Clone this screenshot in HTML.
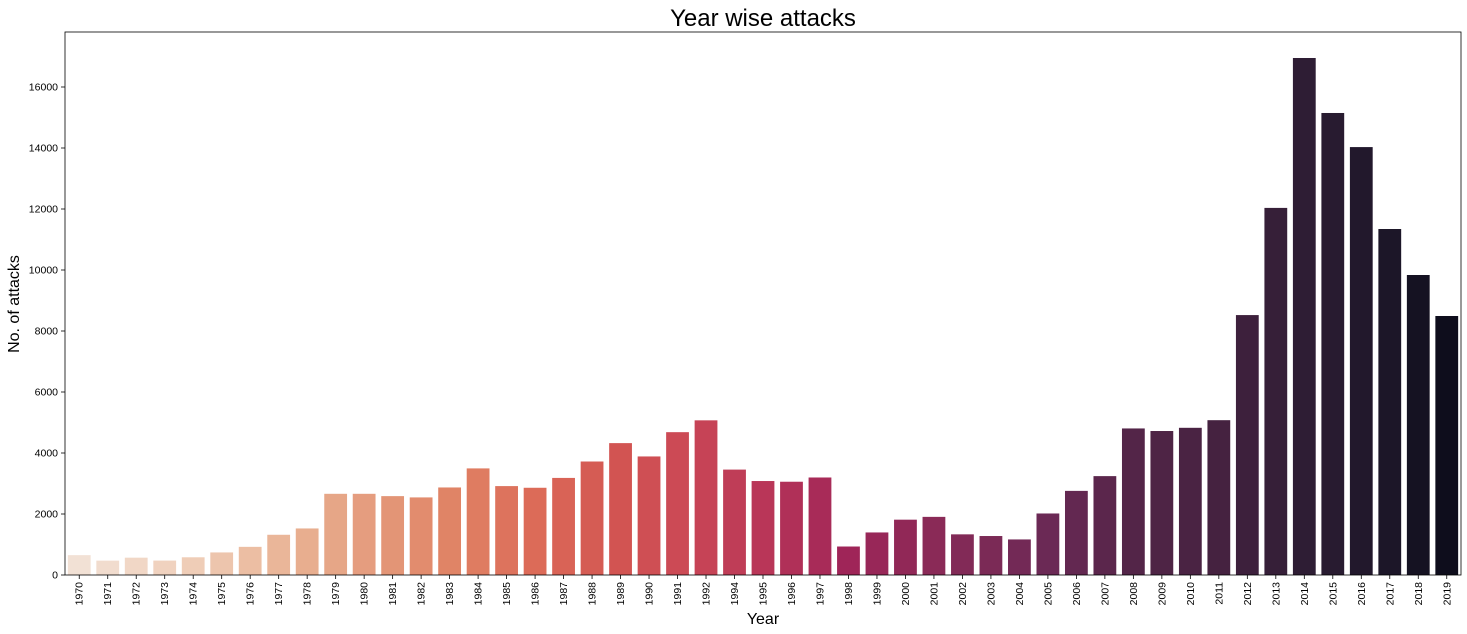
<!DOCTYPE html>
<html><head><meta charset="utf-8"><style>
body{margin:0;background:#fff;}
svg{display:block;font-family:"Liberation Sans","DejaVu Sans",sans-serif;}
</style></head><body>
<svg id="chart" width="1467" height="634"></svg>
<script>
const years=[1970,1971,1972,1973,1974,1975,1976,1977,1978,1979,1980,1981,1982,1983,1984,1985,1986,1987,1988,1989,1990,1991,1992,1994,1995,1996,1997,1998,1999,2000,2001,2002,2003,2004,2005,2006,2007,2008,2009,2010,2011,2012,2013,2014,2015,2016,2017,2018,2019];
const attacks=[651,471,568,473,581,740,923,1319,1526,2662,2662,2586,2544,2870,3495,2915,2860,3183,3721,4324,3887,4683,5071,3456,3081,3058,3197,934,1395,1814,1906,1333,1278,1166,2017,2758,3242,4805,4721,4826,5076,8522,12036,16951,15148,14030,11344,9836,8492];
const yTicks=[0,2000,4000,6000,8000,10000,12000,14000,16000];

const svg=document.getElementById('chart');
const NS='http://www.w3.org/2000/svg';
const L=65,R=1461,T=32,B=575;
const yMax=16000/((B-87)/(B-T));
function y(v){return B-(v/yMax)*(B-T);}
const slot=(R-L)/years.length;
function x(i){return L+slot*i;}
function mk(tag,attrs,txt){const e=document.createElementNS(NS,tag);for(const k in attrs)e.setAttribute(k,attrs[k]);if(txt!==undefined)e.textContent=txt;svg.appendChild(e);return e;}
const stops=[[0,[242,225,213]],[4,[239,205,183]],[8,[232,174,143]],[13,[224,132,102]],[16,[220,107,88]],[19,[210,84,82]],[21,[204,74,85]],[24,[185,54,88]],[27,[159,37,88]],[30,[138,42,87]],[34,[107,41,85]],[37,[83,37,72]],[40,[69,34,64]],[43,[46,29,52]],[46,[28,22,40]],[48,[14,13,28]]];
function col(i){for(let k=1;k<stops.length;k++){if(i<=stops[k][0]){const a=stops[k-1],b=stops[k];const f=(i-a[0])/(b[0]-a[0]);const c=a[1].map((v,j)=>Math.round(v+(b[1][j]-v)*f));return `rgb(${c})`;}}return 'rgb(14,13,28)';}

const title=mk('text',{x:763,y:26,'text-anchor':'middle','font-size':24,fill:'#000'},'Year wise attacks');



years.forEach((yr,i)=>{
  const bw=slot*0.8;
  const r=mk('rect',{x:x(i)+slot*0.1,y:y(attacks[i]),width:bw,height:B-y(attacks[i]),fill:col(i)});
  
  
  const cx=x(i)+slot/2;
  mk('line',{x1:cx,x2:cx,y1:B,y2:B+4,stroke:'#000','stroke-width':0.8});
  const t=mk('text',{x:0,y:0,transform:`translate(${cx+3.5},${B+7}) rotate(-90)`,'text-anchor':'end','font-size':10.5,fill:'#000'},yr);
  
  
});
yTicks.forEach(v=>{
  mk('line',{x1:L-4,x2:L,y1:y(v),y2:y(v),stroke:'#000','stroke-width':0.8});
  const t=mk('text',{x:L-7,y:y(v)+3.5,'text-anchor':'end','font-size':10.5,fill:'#000'},v);
  
  
});
const frame=mk('rect',{x:L,y:T,width:R-L,height:B-T,fill:'none',stroke:'#000','stroke-width':0.8});


const xt=mk('text',{x:763,y:624,'text-anchor':'middle','font-size':16,fill:'#000'},'Year');


const yt=mk('text',{x:0,y:0,transform:'translate(19,304) rotate(-90)','text-anchor':'middle','font-size':16,fill:'#000'},'No. of attacks');


</script>
</body></html>
